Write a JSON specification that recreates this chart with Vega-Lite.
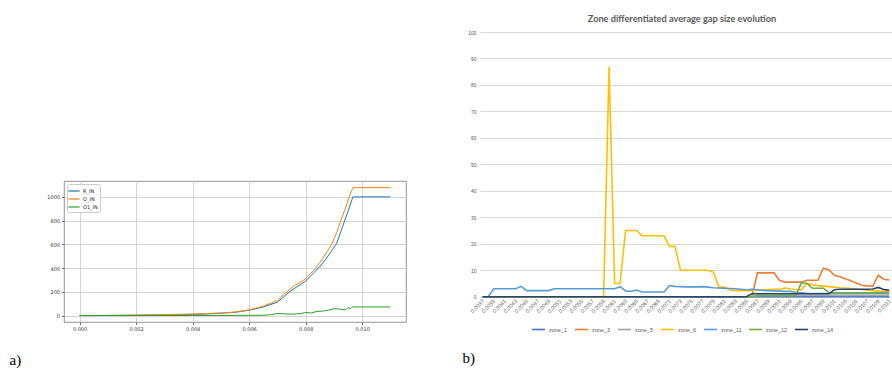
{
"$schema": "https://vega.github.io/schema/vega-lite/v6.json",
"background": "white",
"padding": {"left": 8, "top": 15, "right": 0, "bottom": 0},
"spacing": 55,
"bounds": "full",
"resolve": {"scale": {"color": "independent"}, "legend": {"color": "independent"}},
"hconcat": [
{
"spacing": 0,
"bounds": "full",
"resolve": {"scale": {"color": "independent"}, "legend": {"color": "independent"}},
"vconcat": [
{
"width": 342, "height": 147.1,
"view": {"stroke": null},
"data": {"values": []},
"mark": {"type": "point", "opacity": 0},
"encoding": {}
},
{
"width": 342, "height": 141,
"view": {"stroke": "#7a7a7a", "strokeWidth": 0.8},
"data": {"values": [
{"x":0,"s":"R_IN","y":0},{"x":0.001,"s":"R_IN","y":1},{"x":0.002,"s":"R_IN","y":3},{"x":0.003,"s":"R_IN","y":6},{"x":0.004,"s":"R_IN","y":10},{"x":0.0045,"s":"R_IN","y":14},{"x":0.005,"s":"R_IN","y":20},{"x":0.0055,"s":"R_IN","y":28},{"x":0.006,"s":"R_IN","y":45},{"x":0.0065,"s":"R_IN","y":72},{"x":0.007,"s":"R_IN","y":113},{"x":0.0074,"s":"R_IN","y":195},{"x":0.0077,"s":"R_IN","y":245},{"x":0.008,"s":"R_IN","y":290},{"x":0.0082,"s":"R_IN","y":340},{"x":0.00845,"s":"R_IN","y":400},{"x":0.0087,"s":"R_IN","y":470},{"x":0.0089,"s":"R_IN","y":540},{"x":0.0091,"s":"R_IN","y":610},{"x":0.0093,"s":"R_IN","y":745},{"x":0.0095,"s":"R_IN","y":880},{"x":0.00967,"s":"R_IN","y":1000},{"x":0.011,"s":"R_IN","y":1000},
{"x":0,"s":"O_IN","y":0},{"x":0.001,"s":"O_IN","y":1.5},{"x":0.002,"s":"O_IN","y":4},{"x":0.003,"s":"O_IN","y":8},{"x":0.004,"s":"O_IN","y":13},{"x":0.0045,"s":"O_IN","y":17},{"x":0.005,"s":"O_IN","y":22},{"x":0.0055,"s":"O_IN","y":30},{"x":0.006,"s":"O_IN","y":48},{"x":0.0065,"s":"O_IN","y":80},{"x":0.007,"s":"O_IN","y":125},{"x":0.0073,"s":"O_IN","y":195},{"x":0.0076,"s":"O_IN","y":250},{"x":0.008,"s":"O_IN","y":310},{"x":0.00836,"s":"O_IN","y":400},{"x":0.0086,"s":"O_IN","y":480},{"x":0.00892,"s":"O_IN","y":600},{"x":0.0091,"s":"O_IN","y":700},{"x":0.00924,"s":"O_IN","y":800},{"x":0.0094,"s":"O_IN","y":900},{"x":0.0096,"s":"O_IN","y":1040},{"x":0.00968,"s":"O_IN","y":1078},{"x":0.011,"s":"O_IN","y":1078},
{"x":0,"s":"O1_IN","y":0},{"x":0.002,"s":"O1_IN","y":0.5},{"x":0.004,"s":"O1_IN","y":1},{"x":0.006,"s":"O1_IN","y":2},{"x":0.0065,"s":"O1_IN","y":3},{"x":0.0068,"s":"O1_IN","y":8},{"x":0.007,"s":"O1_IN","y":18},{"x":0.0072,"s":"O1_IN","y":15},{"x":0.0075,"s":"O1_IN","y":12},{"x":0.0078,"s":"O1_IN","y":16},{"x":0.008,"s":"O1_IN","y":26},{"x":0.0082,"s":"O1_IN","y":22},{"x":0.0084,"s":"O1_IN","y":35},{"x":0.0086,"s":"O1_IN","y":38},{"x":0.0088,"s":"O1_IN","y":45},{"x":0.009,"s":"O1_IN","y":58},{"x":0.0092,"s":"O1_IN","y":55},{"x":0.0094,"s":"O1_IN","y":47},{"x":0.0095,"s":"O1_IN","y":66},{"x":0.0096,"s":"O1_IN","y":60},{"x":0.00965,"s":"O1_IN","y":72},{"x":0.0097,"s":"O1_IN","y":73},{"x":0.011,"s":"O1_IN","y":73}
]},
"mark": {"type": "line", "strokeWidth": 1},
"encoding": {
"x": {"field": "x", "type": "quantitative", "scale": {"domain": [-0.00055, 0.01155], "nice": false, "zero": false},
"axis": {"values": [0, 0.002, 0.004, 0.006, 0.008, 0.01], "format": ".3f", "grid": true, "gridColor": "#d4d4d4", "gridWidth": 1, "domain": false, "tickSize": 2.5, "tickColor": "#666", "labelFontSize": 5, "labelColor": "#333", "labelPadding": 2, "labelFlush": false, "labelFont": "DejaVu Sans",
"title": "a)", "titleX": -55, "titleY": 42, "titleAlign": "left", "titleAnchor": null, "titleBaseline": "alphabetic", "titleFont": "Liberation Serif", "titleFontSize": 15, "titleFontWeight": "normal", "titleColor": "#000"}},
"y": {"field": "y", "type": "quantitative", "scale": {"domain": [-54, 1134], "nice": false, "zero": false},
"axis": {"values": [0, 200, 400, 600, 800, 1000], "format": "d", "grid": true, "gridColor": "#d4d4d4", "gridWidth": 1, "domain": false, "tickSize": 2.5, "tickColor": "#666", "labelFontSize": 5, "labelColor": "#333", "labelPadding": 2, "labelFlush": false, "labelFont": "DejaVu Sans", "title": null}},
"color": {"field": "s", "type": "nominal", "scale": {"domain": ["R_IN", "O_IN", "O1_IN"], "range": ["#1f77b4", "#ff7f0e", "#2ca02c"]},
"legend": {"orient": "top-left", "offset": 3, "title": null, "fillColor": "white", "strokeColor": "#cccccc", "cornerRadius": 2, "padding": 2, "symbolType": "M-1.4,0H1.4", "symbolSize": 64, "symbolStrokeWidth": 1.2, "labelFontSize": 5, "labelOffset": 4, "rowPadding": 0, "labelColor": "#222", "labelFont": "DejaVu Sans"}}
}
}
]
},
{
"width": 412, "height": 264.7,
"title": {"text": "Zone differentiated average gap size evolution", "font": "Lato", "fontSize": 9.2, "fontWeight": "bold", "color": "#595959", "frame": "group", "anchor": "middle", "offset": 5.8, "dx": -4},
"view": {"stroke": null},
"data": {"values": [
{"t":"0.0037","z":"zone_1","v":0},{"t":"0.0038","z":"zone_1","v":0},{"t":"0.0039","z":"zone_1","v":0},{"t":"0.0040","z":"zone_1","v":0},{"t":"0.0041","z":"zone_1","v":0},{"t":"0.0042","z":"zone_1","v":0},{"t":"0.0043","z":"zone_1","v":0},{"t":"0.0044","z":"zone_1","v":0},{"t":"0.0045","z":"zone_1","v":0},{"t":"0.0046","z":"zone_1","v":0},{"t":"0.0047","z":"zone_1","v":0},{"t":"0.0048","z":"zone_1","v":0},{"t":"0.0049","z":"zone_1","v":0},{"t":"0.0050","z":"zone_1","v":0},{"t":"0.0051","z":"zone_1","v":0},{"t":"0.0052","z":"zone_1","v":0},{"t":"0.0053","z":"zone_1","v":0},{"t":"0.0054","z":"zone_1","v":0},{"t":"0.0055","z":"zone_1","v":0},{"t":"0.0056","z":"zone_1","v":0},{"t":"0.0057","z":"zone_1","v":0},{"t":"0.0058","z":"zone_1","v":0},{"t":"0.0059","z":"zone_1","v":0},{"t":"0.0060","z":"zone_1","v":0},{"t":"0.0061","z":"zone_1","v":0},{"t":"0.0062","z":"zone_1","v":0},{"t":"0.0063","z":"zone_1","v":0},{"t":"0.0064","z":"zone_1","v":0},{"t":"0.0065","z":"zone_1","v":0},{"t":"0.0066","z":"zone_1","v":0},{"t":"0.0067","z":"zone_1","v":0},{"t":"0.0068","z":"zone_1","v":0},{"t":"0.0069","z":"zone_1","v":0},{"t":"0.0070","z":"zone_1","v":0},{"t":"0.0071","z":"zone_1","v":0},{"t":"0.0072","z":"zone_1","v":0},{"t":"0.0073","z":"zone_1","v":0},{"t":"0.0074","z":"zone_1","v":0},{"t":"0.0075","z":"zone_1","v":0},{"t":"0.0076","z":"zone_1","v":0},{"t":"0.0077","z":"zone_1","v":0},{"t":"0.0078","z":"zone_1","v":0},{"t":"0.0079","z":"zone_1","v":0},{"t":"0.0080","z":"zone_1","v":0},{"t":"0.0081","z":"zone_1","v":0},{"t":"0.0082","z":"zone_1","v":0},{"t":"0.0083","z":"zone_1","v":0},{"t":"0.0084","z":"zone_1","v":0},{"t":"0.0085","z":"zone_1","v":0},{"t":"0.0086","z":"zone_1","v":0},{"t":"0.0087","z":"zone_1","v":0},{"t":"0.0088","z":"zone_1","v":0},{"t":"0.0089","z":"zone_1","v":0},{"t":"0.0090","z":"zone_1","v":0},{"t":"0.0091","z":"zone_1","v":0},{"t":"0.0092","z":"zone_1","v":0},{"t":"0.0093","z":"zone_1","v":0},{"t":"0.0094","z":"zone_1","v":0},{"t":"0.0095","z":"zone_1","v":0},{"t":"0.0096","z":"zone_1","v":0},{"t":"0.0097","z":"zone_1","v":0},{"t":"0.0098","z":"zone_1","v":0},{"t":"0.0099","z":"zone_1","v":0},{"t":"0.0100","z":"zone_1","v":0},{"t":"0.0101","z":"zone_1","v":0},{"t":"0.0102","z":"zone_1","v":0},{"t":"0.0103","z":"zone_1","v":0},{"t":"0.0104","z":"zone_1","v":0},{"t":"0.0105","z":"zone_1","v":0},{"t":"0.0106","z":"zone_1","v":0},{"t":"0.0107","z":"zone_1","v":0},{"t":"0.0108","z":"zone_1","v":0},{"t":"0.0109","z":"zone_1","v":0},{"t":"0.0110","z":"zone_1","v":0},{"t":"0.0111","z":"zone_1","v":0},
{"t":"0.0037","z":"zone_3","v":0},{"t":"0.0038","z":"zone_3","v":0},{"t":"0.0039","z":"zone_3","v":0},{"t":"0.0040","z":"zone_3","v":0},{"t":"0.0041","z":"zone_3","v":0},{"t":"0.0042","z":"zone_3","v":0},{"t":"0.0043","z":"zone_3","v":0},{"t":"0.0044","z":"zone_3","v":0},{"t":"0.0045","z":"zone_3","v":0},{"t":"0.0046","z":"zone_3","v":0},{"t":"0.0047","z":"zone_3","v":0},{"t":"0.0048","z":"zone_3","v":0},{"t":"0.0049","z":"zone_3","v":0},{"t":"0.0050","z":"zone_3","v":0},{"t":"0.0051","z":"zone_3","v":0},{"t":"0.0052","z":"zone_3","v":0},{"t":"0.0053","z":"zone_3","v":0},{"t":"0.0054","z":"zone_3","v":0},{"t":"0.0055","z":"zone_3","v":0},{"t":"0.0056","z":"zone_3","v":0},{"t":"0.0057","z":"zone_3","v":0},{"t":"0.0058","z":"zone_3","v":0},{"t":"0.0059","z":"zone_3","v":0},{"t":"0.0060","z":"zone_3","v":0},{"t":"0.0061","z":"zone_3","v":0},{"t":"0.0062","z":"zone_3","v":0},{"t":"0.0063","z":"zone_3","v":0},{"t":"0.0064","z":"zone_3","v":0},{"t":"0.0065","z":"zone_3","v":0},{"t":"0.0066","z":"zone_3","v":0},{"t":"0.0067","z":"zone_3","v":0},{"t":"0.0068","z":"zone_3","v":0},{"t":"0.0069","z":"zone_3","v":0},{"t":"0.0070","z":"zone_3","v":0},{"t":"0.0071","z":"zone_3","v":0},{"t":"0.0072","z":"zone_3","v":0},{"t":"0.0073","z":"zone_3","v":0},{"t":"0.0074","z":"zone_3","v":0},{"t":"0.0075","z":"zone_3","v":0},{"t":"0.0076","z":"zone_3","v":0},{"t":"0.0077","z":"zone_3","v":0},{"t":"0.0078","z":"zone_3","v":0},{"t":"0.0079","z":"zone_3","v":0},{"t":"0.0080","z":"zone_3","v":0},{"t":"0.0081","z":"zone_3","v":0},{"t":"0.0082","z":"zone_3","v":0},{"t":"0.0083","z":"zone_3","v":0},{"t":"0.0084","z":"zone_3","v":0},{"t":"0.0085","z":"zone_3","v":0},{"t":"0.0086","z":"zone_3","v":0},{"t":"0.0087","z":"zone_3","v":9},{"t":"0.0088","z":"zone_3","v":9},{"t":"0.0089","z":"zone_3","v":9},{"t":"0.0090","z":"zone_3","v":9},{"t":"0.0091","z":"zone_3","v":6.2},{"t":"0.0092","z":"zone_3","v":5.5},{"t":"0.0093","z":"zone_3","v":5.5},{"t":"0.0094","z":"zone_3","v":5.5},{"t":"0.0095","z":"zone_3","v":5.5},{"t":"0.0096","z":"zone_3","v":6.2},{"t":"0.0097","z":"zone_3","v":6.2},{"t":"0.0098","z":"zone_3","v":6.2},{"t":"0.0099","z":"zone_3","v":10.8},{"t":"0.0100","z":"zone_3","v":10.2},{"t":"0.0101","z":"zone_3","v":8.1},{"t":"0.0102","z":"zone_3","v":7.5},{"t":"0.0103","z":"zone_3","v":6.8},{"t":"0.0104","z":"zone_3","v":6.0},{"t":"0.0105","z":"zone_3","v":5.2},{"t":"0.0106","z":"zone_3","v":4.3},{"t":"0.0107","z":"zone_3","v":4.1},{"t":"0.0108","z":"zone_3","v":4.0},{"t":"0.0109","z":"zone_3","v":8.1},{"t":"0.0110","z":"zone_3","v":6.6},{"t":"0.0111","z":"zone_3","v":6.3},
{"t":"0.0037","z":"zone_5","v":0},{"t":"0.0038","z":"zone_5","v":0},{"t":"0.0039","z":"zone_5","v":0},{"t":"0.0040","z":"zone_5","v":0},{"t":"0.0041","z":"zone_5","v":0},{"t":"0.0042","z":"zone_5","v":0},{"t":"0.0043","z":"zone_5","v":0},{"t":"0.0044","z":"zone_5","v":0},{"t":"0.0045","z":"zone_5","v":0},{"t":"0.0046","z":"zone_5","v":0},{"t":"0.0047","z":"zone_5","v":0},{"t":"0.0048","z":"zone_5","v":0},{"t":"0.0049","z":"zone_5","v":0},{"t":"0.0050","z":"zone_5","v":0},{"t":"0.0051","z":"zone_5","v":0},{"t":"0.0052","z":"zone_5","v":0},{"t":"0.0053","z":"zone_5","v":0},{"t":"0.0054","z":"zone_5","v":0},{"t":"0.0055","z":"zone_5","v":0},{"t":"0.0056","z":"zone_5","v":0},{"t":"0.0057","z":"zone_5","v":0},{"t":"0.0058","z":"zone_5","v":0},{"t":"0.0059","z":"zone_5","v":0},{"t":"0.0060","z":"zone_5","v":0},{"t":"0.0061","z":"zone_5","v":0},{"t":"0.0062","z":"zone_5","v":0},{"t":"0.0063","z":"zone_5","v":0},{"t":"0.0064","z":"zone_5","v":0},{"t":"0.0065","z":"zone_5","v":0},{"t":"0.0066","z":"zone_5","v":0},{"t":"0.0067","z":"zone_5","v":0},{"t":"0.0068","z":"zone_5","v":0},{"t":"0.0069","z":"zone_5","v":0},{"t":"0.0070","z":"zone_5","v":0},{"t":"0.0071","z":"zone_5","v":0},{"t":"0.0072","z":"zone_5","v":0},{"t":"0.0073","z":"zone_5","v":0},{"t":"0.0074","z":"zone_5","v":0},{"t":"0.0075","z":"zone_5","v":0},{"t":"0.0076","z":"zone_5","v":0},{"t":"0.0077","z":"zone_5","v":0},{"t":"0.0078","z":"zone_5","v":0},{"t":"0.0079","z":"zone_5","v":0},{"t":"0.0080","z":"zone_5","v":0},{"t":"0.0081","z":"zone_5","v":0},{"t":"0.0082","z":"zone_5","v":0},{"t":"0.0083","z":"zone_5","v":0},{"t":"0.0084","z":"zone_5","v":0},{"t":"0.0085","z":"zone_5","v":0},{"t":"0.0086","z":"zone_5","v":0},{"t":"0.0087","z":"zone_5","v":0.5},{"t":"0.0088","z":"zone_5","v":0.5},{"t":"0.0089","z":"zone_5","v":0.5},{"t":"0.0090","z":"zone_5","v":0.5},{"t":"0.0091","z":"zone_5","v":0.5},{"t":"0.0092","z":"zone_5","v":0.5},{"t":"0.0093","z":"zone_5","v":0.5},{"t":"0.0094","z":"zone_5","v":0.5},{"t":"0.0095","z":"zone_5","v":0.5},{"t":"0.0096","z":"zone_5","v":0.5},{"t":"0.0097","z":"zone_5","v":0.5},{"t":"0.0098","z":"zone_5","v":0.5},{"t":"0.0099","z":"zone_5","v":0.5},{"t":"0.0100","z":"zone_5","v":0.5},{"t":"0.0101","z":"zone_5","v":0.5},{"t":"0.0102","z":"zone_5","v":0.5},{"t":"0.0103","z":"zone_5","v":0.5},{"t":"0.0104","z":"zone_5","v":0.5},{"t":"0.0105","z":"zone_5","v":0.5},{"t":"0.0106","z":"zone_5","v":0.5},{"t":"0.0107","z":"zone_5","v":0.5},{"t":"0.0108","z":"zone_5","v":0.5},{"t":"0.0109","z":"zone_5","v":0.5},{"t":"0.0110","z":"zone_5","v":0.5},{"t":"0.0111","z":"zone_5","v":0.5},
{"t":"0.0037","z":"zone_6","v":0},{"t":"0.0038","z":"zone_6","v":0},{"t":"0.0039","z":"zone_6","v":0},{"t":"0.0040","z":"zone_6","v":0},{"t":"0.0041","z":"zone_6","v":0},{"t":"0.0042","z":"zone_6","v":0},{"t":"0.0043","z":"zone_6","v":0},{"t":"0.0044","z":"zone_6","v":0},{"t":"0.0045","z":"zone_6","v":0},{"t":"0.0046","z":"zone_6","v":0},{"t":"0.0047","z":"zone_6","v":0},{"t":"0.0048","z":"zone_6","v":0},{"t":"0.0049","z":"zone_6","v":0},{"t":"0.0050","z":"zone_6","v":0},{"t":"0.0051","z":"zone_6","v":0},{"t":"0.0052","z":"zone_6","v":0},{"t":"0.0053","z":"zone_6","v":0},{"t":"0.0054","z":"zone_6","v":0},{"t":"0.0055","z":"zone_6","v":0},{"t":"0.0056","z":"zone_6","v":0},{"t":"0.0057","z":"zone_6","v":0},{"t":"0.0058","z":"zone_6","v":0},{"t":"0.0059","z":"zone_6","v":0},{"t":"0.0060","z":"zone_6","v":87},{"t":"0.0061","z":"zone_6","v":5},{"t":"0.0062","z":"zone_6","v":5},{"t":"0.0063","z":"zone_6","v":25},{"t":"0.0064","z":"zone_6","v":25},{"t":"0.0065","z":"zone_6","v":25},{"t":"0.0066","z":"zone_6","v":23},{"t":"0.0067","z":"zone_6","v":23},{"t":"0.0068","z":"zone_6","v":23},{"t":"0.0069","z":"zone_6","v":23},{"t":"0.0070","z":"zone_6","v":23},{"t":"0.0071","z":"zone_6","v":19},{"t":"0.0072","z":"zone_6","v":19},{"t":"0.0073","z":"zone_6","v":10},{"t":"0.0074","z":"zone_6","v":10},{"t":"0.0075","z":"zone_6","v":10},{"t":"0.0076","z":"zone_6","v":10},{"t":"0.0077","z":"zone_6","v":10},{"t":"0.0078","z":"zone_6","v":10},{"t":"0.0079","z":"zone_6","v":9.2},{"t":"0.0080","z":"zone_6","v":3.6},{"t":"0.0081","z":"zone_6","v":3.6},{"t":"0.0082","z":"zone_6","v":2.5},{"t":"0.0083","z":"zone_6","v":2.3},{"t":"0.0084","z":"zone_6","v":2.3},{"t":"0.0085","z":"zone_6","v":2.3},{"t":"0.0086","z":"zone_6","v":2.3},{"t":"0.0087","z":"zone_6","v":2.5},{"t":"0.0088","z":"zone_6","v":2.6},{"t":"0.0089","z":"zone_6","v":2.7},{"t":"0.0090","z":"zone_6","v":2.8},{"t":"0.0091","z":"zone_6","v":2.8},{"t":"0.0092","z":"zone_6","v":3.3},{"t":"0.0093","z":"zone_6","v":2.9},{"t":"0.0094","z":"zone_6","v":2.7},{"t":"0.0095","z":"zone_6","v":2.6},{"t":"0.0096","z":"zone_6","v":5.0},{"t":"0.0097","z":"zone_6","v":4.5},{"t":"0.0098","z":"zone_6","v":4.2},{"t":"0.0099","z":"zone_6","v":4.0},{"t":"0.0100","z":"zone_6","v":3.8},{"t":"0.0101","z":"zone_6","v":3.6},{"t":"0.0102","z":"zone_6","v":3.4},{"t":"0.0103","z":"zone_6","v":3.3},{"t":"0.0104","z":"zone_6","v":3.1},{"t":"0.0105","z":"zone_6","v":2.9},{"t":"0.0106","z":"zone_6","v":2.7},{"t":"0.0107","z":"zone_6","v":2.5},{"t":"0.0108","z":"zone_6","v":2.3},{"t":"0.0109","z":"zone_6","v":2.1},{"t":"0.0110","z":"zone_6","v":2.0},{"t":"0.0111","z":"zone_6","v":1.8},
{"t":"0.0037","z":"zone_11","v":0},{"t":"0.0038","z":"zone_11","v":0},{"t":"0.0039","z":"zone_11","v":3},{"t":"0.0040","z":"zone_11","v":3},{"t":"0.0041","z":"zone_11","v":3},{"t":"0.0042","z":"zone_11","v":3},{"t":"0.0043","z":"zone_11","v":3},{"t":"0.0044","z":"zone_11","v":3.9},{"t":"0.0045","z":"zone_11","v":2.3},{"t":"0.0046","z":"zone_11","v":2.3},{"t":"0.0047","z":"zone_11","v":2.3},{"t":"0.0048","z":"zone_11","v":2.3},{"t":"0.0049","z":"zone_11","v":2.3},{"t":"0.0050","z":"zone_11","v":3},{"t":"0.0051","z":"zone_11","v":3},{"t":"0.0052","z":"zone_11","v":3},{"t":"0.0053","z":"zone_11","v":3},{"t":"0.0054","z":"zone_11","v":3},{"t":"0.0055","z":"zone_11","v":3},{"t":"0.0056","z":"zone_11","v":3},{"t":"0.0057","z":"zone_11","v":3},{"t":"0.0058","z":"zone_11","v":3},{"t":"0.0059","z":"zone_11","v":3},{"t":"0.0060","z":"zone_11","v":3},{"t":"0.0061","z":"zone_11","v":3},{"t":"0.0062","z":"zone_11","v":3.8},{"t":"0.0063","z":"zone_11","v":2.2},{"t":"0.0064","z":"zone_11","v":2.0},{"t":"0.0065","z":"zone_11","v":2.5},{"t":"0.0066","z":"zone_11","v":1.8},{"t":"0.0067","z":"zone_11","v":1.8},{"t":"0.0068","z":"zone_11","v":1.8},{"t":"0.0069","z":"zone_11","v":1.8},{"t":"0.0070","z":"zone_11","v":1.8},{"t":"0.0071","z":"zone_11","v":4.2},{"t":"0.0072","z":"zone_11","v":3.9},{"t":"0.0073","z":"zone_11","v":3.8},{"t":"0.0074","z":"zone_11","v":3.7},{"t":"0.0075","z":"zone_11","v":3.7},{"t":"0.0076","z":"zone_11","v":3.7},{"t":"0.0077","z":"zone_11","v":3.8},{"t":"0.0078","z":"zone_11","v":3.6},{"t":"0.0079","z":"zone_11","v":3.4},{"t":"0.0080","z":"zone_11","v":3.3},{"t":"0.0081","z":"zone_11","v":3.2},{"t":"0.0082","z":"zone_11","v":3.1},{"t":"0.0083","z":"zone_11","v":3.0},{"t":"0.0084","z":"zone_11","v":2.8},{"t":"0.0085","z":"zone_11","v":2.6},{"t":"0.0086","z":"zone_11","v":2.8},{"t":"0.0087","z":"zone_11","v":2.6},{"t":"0.0088","z":"zone_11","v":2.4},{"t":"0.0089","z":"zone_11","v":2.3},{"t":"0.0090","z":"zone_11","v":2.2},{"t":"0.0091","z":"zone_11","v":2.1},{"t":"0.0092","z":"zone_11","v":2.0},{"t":"0.0093","z":"zone_11","v":2.0},{"t":"0.0094","z":"zone_11","v":1.7},{"t":"0.0095","z":"zone_11","v":1.5},{"t":"0.0096","z":"zone_11","v":1.3},{"t":"0.0097","z":"zone_11","v":1.2},{"t":"0.0098","z":"zone_11","v":1.2},{"t":"0.0099","z":"zone_11","v":1.2},{"t":"0.0100","z":"zone_11","v":1.2},{"t":"0.0101","z":"zone_11","v":1.2},{"t":"0.0102","z":"zone_11","v":1.2},{"t":"0.0103","z":"zone_11","v":1.2},{"t":"0.0104","z":"zone_11","v":1.2},{"t":"0.0105","z":"zone_11","v":1.2},{"t":"0.0106","z":"zone_11","v":1.2},{"t":"0.0107","z":"zone_11","v":1.2},{"t":"0.0108","z":"zone_11","v":1.2},{"t":"0.0109","z":"zone_11","v":1.2},{"t":"0.0110","z":"zone_11","v":1.2},{"t":"0.0111","z":"zone_11","v":1.2},
{"t":"0.0037","z":"zone_12","v":0},{"t":"0.0038","z":"zone_12","v":0},{"t":"0.0039","z":"zone_12","v":0},{"t":"0.0040","z":"zone_12","v":0},{"t":"0.0041","z":"zone_12","v":0},{"t":"0.0042","z":"zone_12","v":0},{"t":"0.0043","z":"zone_12","v":0},{"t":"0.0044","z":"zone_12","v":0},{"t":"0.0045","z":"zone_12","v":0},{"t":"0.0046","z":"zone_12","v":0},{"t":"0.0047","z":"zone_12","v":0},{"t":"0.0048","z":"zone_12","v":0},{"t":"0.0049","z":"zone_12","v":0},{"t":"0.0050","z":"zone_12","v":0},{"t":"0.0051","z":"zone_12","v":0},{"t":"0.0052","z":"zone_12","v":0},{"t":"0.0053","z":"zone_12","v":0},{"t":"0.0054","z":"zone_12","v":0},{"t":"0.0055","z":"zone_12","v":0},{"t":"0.0056","z":"zone_12","v":0},{"t":"0.0057","z":"zone_12","v":0},{"t":"0.0058","z":"zone_12","v":0},{"t":"0.0059","z":"zone_12","v":0},{"t":"0.0060","z":"zone_12","v":0},{"t":"0.0061","z":"zone_12","v":0},{"t":"0.0062","z":"zone_12","v":0},{"t":"0.0063","z":"zone_12","v":0},{"t":"0.0064","z":"zone_12","v":0},{"t":"0.0065","z":"zone_12","v":0},{"t":"0.0066","z":"zone_12","v":0},{"t":"0.0067","z":"zone_12","v":0},{"t":"0.0068","z":"zone_12","v":0},{"t":"0.0069","z":"zone_12","v":0},{"t":"0.0070","z":"zone_12","v":0},{"t":"0.0071","z":"zone_12","v":0},{"t":"0.0072","z":"zone_12","v":0},{"t":"0.0073","z":"zone_12","v":0},{"t":"0.0074","z":"zone_12","v":0},{"t":"0.0075","z":"zone_12","v":0},{"t":"0.0076","z":"zone_12","v":0},{"t":"0.0077","z":"zone_12","v":0},{"t":"0.0078","z":"zone_12","v":0},{"t":"0.0079","z":"zone_12","v":0},{"t":"0.0080","z":"zone_12","v":0},{"t":"0.0081","z":"zone_12","v":0},{"t":"0.0082","z":"zone_12","v":0},{"t":"0.0083","z":"zone_12","v":0},{"t":"0.0084","z":"zone_12","v":0},{"t":"0.0085","z":"zone_12","v":0},{"t":"0.0086","z":"zone_12","v":0},{"t":"0.0087","z":"zone_12","v":0.4},{"t":"0.0088","z":"zone_12","v":0.4},{"t":"0.0089","z":"zone_12","v":0.4},{"t":"0.0090","z":"zone_12","v":0.4},{"t":"0.0091","z":"zone_12","v":0.4},{"t":"0.0092","z":"zone_12","v":0.4},{"t":"0.0093","z":"zone_12","v":0.4},{"t":"0.0094","z":"zone_12","v":0.4},{"t":"0.0095","z":"zone_12","v":5.3},{"t":"0.0096","z":"zone_12","v":5.0},{"t":"0.0097","z":"zone_12","v":3.2},{"t":"0.0098","z":"zone_12","v":3.2},{"t":"0.0099","z":"zone_12","v":3.2},{"t":"0.0100","z":"zone_12","v":1.6},{"t":"0.0101","z":"zone_12","v":1.5},{"t":"0.0102","z":"zone_12","v":1.5},{"t":"0.0103","z":"zone_12","v":1.5},{"t":"0.0104","z":"zone_12","v":1.5},{"t":"0.0105","z":"zone_12","v":1.5},{"t":"0.0106","z":"zone_12","v":1.5},{"t":"0.0107","z":"zone_12","v":1.5},{"t":"0.0108","z":"zone_12","v":1.5},{"t":"0.0109","z":"zone_12","v":1.5},{"t":"0.0110","z":"zone_12","v":1.5},{"t":"0.0111","z":"zone_12","v":1.5},
{"t":"0.0037","z":"zone_14","v":0},{"t":"0.0038","z":"zone_14","v":0},{"t":"0.0039","z":"zone_14","v":0},{"t":"0.0040","z":"zone_14","v":0},{"t":"0.0041","z":"zone_14","v":0},{"t":"0.0042","z":"zone_14","v":0},{"t":"0.0043","z":"zone_14","v":0},{"t":"0.0044","z":"zone_14","v":0},{"t":"0.0045","z":"zone_14","v":0},{"t":"0.0046","z":"zone_14","v":0},{"t":"0.0047","z":"zone_14","v":0},{"t":"0.0048","z":"zone_14","v":0},{"t":"0.0049","z":"zone_14","v":0},{"t":"0.0050","z":"zone_14","v":0},{"t":"0.0051","z":"zone_14","v":0},{"t":"0.0052","z":"zone_14","v":0},{"t":"0.0053","z":"zone_14","v":0},{"t":"0.0054","z":"zone_14","v":0},{"t":"0.0055","z":"zone_14","v":0},{"t":"0.0056","z":"zone_14","v":0},{"t":"0.0057","z":"zone_14","v":0},{"t":"0.0058","z":"zone_14","v":0},{"t":"0.0059","z":"zone_14","v":0},{"t":"0.0060","z":"zone_14","v":0},{"t":"0.0061","z":"zone_14","v":0},{"t":"0.0062","z":"zone_14","v":0},{"t":"0.0063","z":"zone_14","v":0},{"t":"0.0064","z":"zone_14","v":0},{"t":"0.0065","z":"zone_14","v":0},{"t":"0.0066","z":"zone_14","v":0},{"t":"0.0067","z":"zone_14","v":0},{"t":"0.0068","z":"zone_14","v":0},{"t":"0.0069","z":"zone_14","v":0},{"t":"0.0070","z":"zone_14","v":0},{"t":"0.0071","z":"zone_14","v":0},{"t":"0.0072","z":"zone_14","v":0},{"t":"0.0073","z":"zone_14","v":0},{"t":"0.0074","z":"zone_14","v":0},{"t":"0.0075","z":"zone_14","v":0},{"t":"0.0076","z":"zone_14","v":0},{"t":"0.0077","z":"zone_14","v":0},{"t":"0.0078","z":"zone_14","v":0},{"t":"0.0079","z":"zone_14","v":0},{"t":"0.0080","z":"zone_14","v":0},{"t":"0.0081","z":"zone_14","v":0},{"t":"0.0082","z":"zone_14","v":0},{"t":"0.0083","z":"zone_14","v":0},{"t":"0.0084","z":"zone_14","v":0},{"t":"0.0085","z":"zone_14","v":0},{"t":"0.0086","z":"zone_14","v":1.1},{"t":"0.0087","z":"zone_14","v":1.1},{"t":"0.0088","z":"zone_14","v":1.1},{"t":"0.0089","z":"zone_14","v":1.1},{"t":"0.0090","z":"zone_14","v":1.1},{"t":"0.0091","z":"zone_14","v":1.1},{"t":"0.0092","z":"zone_14","v":1.1},{"t":"0.0093","z":"zone_14","v":1.1},{"t":"0.0094","z":"zone_14","v":1.1},{"t":"0.0095","z":"zone_14","v":1.1},{"t":"0.0096","z":"zone_14","v":1.1},{"t":"0.0097","z":"zone_14","v":1.1},{"t":"0.0098","z":"zone_14","v":1.1},{"t":"0.0099","z":"zone_14","v":1.1},{"t":"0.0100","z":"zone_14","v":1.1},{"t":"0.0101","z":"zone_14","v":2.6},{"t":"0.0102","z":"zone_14","v":2.8},{"t":"0.0103","z":"zone_14","v":2.8},{"t":"0.0104","z":"zone_14","v":2.8},{"t":"0.0105","z":"zone_14","v":2.8},{"t":"0.0106","z":"zone_14","v":2.8},{"t":"0.0107","z":"zone_14","v":2.8},{"t":"0.0108","z":"zone_14","v":2.9},{"t":"0.0109","z":"zone_14","v":3.5},{"t":"0.0110","z":"zone_14","v":2.7},{"t":"0.0111","z":"zone_14","v":2.4}
]},
"mark": {"type": "line", "strokeWidth": 1.6},
"encoding": {
"x": {"field": "t", "type": "ordinal", "scale": {"type": "point", "padding": 0.5},
"axis": {"values": ["0.0037","0.0039","0.0041","0.0043","0.0045","0.0047","0.0049","0.0051","0.0053","0.0055","0.0057","0.0059","0.0061","0.0063","0.0065","0.0067","0.0069","0.0071","0.0073","0.0075","0.0077","0.0079","0.0081","0.0083","0.0085","0.0087","0.0089","0.0091","0.0093","0.0095","0.0097","0.0099","0.0101","0.0103","0.0105","0.0107","0.0109","0.0111"],
"labelAngle": -45, "labelAlign": "right", "labelBaseline": "middle", "labelFontSize": 5.5, "labelColor": "#595959", "labelFont": "Liberation Sans", "labelOverlap": false, "labelPadding": 3, "ticks": false, "domain": true, "domainColor": "#d9d9d9", "grid": false,
"title": "b)", "titleX": -18, "titleY": 66, "titleAlign": "left", "titleAnchor": null, "titleBaseline": "alphabetic", "titleFont": "Liberation Serif", "titleFontSize": 15, "titleFontWeight": "normal", "titleColor": "#000"}},
"y": {"field": "v", "type": "quantitative", "scale": {"domain": [0, 100], "nice": false},
"axis": {"values": [0,10,20,30,40,50,60,70,80,90,100], "grid": true, "gridColor": "#d9d9d9", "gridWidth": 1, "domain": false, "ticks": false, "labelFontSize": 5, "labelColor": "#595959", "labelFont": "Liberation Sans", "labelPadding": 4, "title": null}},
"color": {"field": "z", "type": "nominal", "scale": {"domain": ["zone_1","zone_3","zone_5","zone_6","zone_11","zone_12","zone_14"], "range": ["#4472C4","#ED7D31","#A5A5A5","#FFC000","#5B9BD5","#70AD47","#264478"]},
"legend": {"orient": "none", "legendX": 51, "legendY": 290, "direction": "horizontal", "title": null, "symbolType": "stroke", "symbolSize": 169, "symbolStrokeWidth": 1.6, "labelFontSize": 5.5, "labelColor": "#595959", "labelFont": "Liberation Sans", "columnPadding": 3, "labelOffset": 3}}
}
}
]
}
